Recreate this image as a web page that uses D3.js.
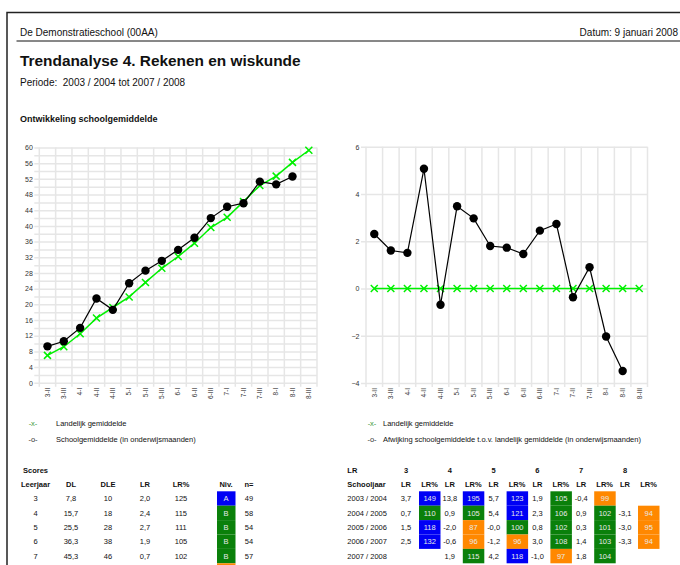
<!DOCTYPE html>
<html>
<head>
<meta charset="utf-8">
<script src="https://cdn.jsdelivr.net/npm/d3@7"></script>
<style>
  body { margin: 0; background: #fff; }
  svg { display: block; font-family: "Liberation Sans", Arial, sans-serif; }
  text { white-space: pre; }
</style>
</head>
<body>
<svg id="chart" width="680" height="565"></svg>
<script>
// periods (leerjaar - meetmoment)
const PERIODS = ["3-II", "3-III", "4-I", "4-II", "4-III", "5-I", "5-II", "5-III", "6-I", "6-II", "6-III", "7-I", "7-II", "7-III", "8-I", "8-II", "8-III"];
const SCHOOL_AVG = [9.3, 10.6, 14.0, 21.5, 18.6, 25.4, 28.6, 31.1, 33.9, 37.0, 42.0, 44.9, 45.8, 51.3, 50.6, 52.6];
const NATIONAL_AVG = [7.0, 9.2, 12.5, 16.5, 19.2, 21.9, 25.6, 29.2, 32.2, 35.6, 39.6, 42.2, 46.2, 50.3, 52.7, 56.2, 59.3];
const DEVIATION = [2.31, 1.61, 1.51, 5.07, -0.69, 3.48, 2.97, 1.80, 1.73, 1.46, 2.45, 2.73, -0.37, 0.90, -2.03, -3.49];
const NATIONAL_DEV = PERIODS.map(() => 0);

// scores table (the 8th row only shows the top of its Niv. cell)
const SCORE_COLS = ["Leerjaar", "DL", "DLE", "LR", "LR%", "Niv.", "n="];
const SCORE_GRADE = ["3", "4", "5", "6", "7"];
const SCORE_DL = ["7,8", "15,7", "25,5", "36,3", "45,3"];
const SCORE_DLE = ["10", "18", "28", "38", "46"];
const SCORE_LR = ["2,0", "2,4", "2,7", "1,9", "0,7"];
const SCORE_LRP = ["125", "115", "111", "105", "102"];
const SCORE_NIV = ["A", "B", "B", "B", "B", "C"];
const SCORE_N = ["49", "58", "54", "54", "57"];

// LR per schooljaar table
const TREND_GRADES = ["3", "4", "5", "6", "7", "8"];
const YEARS = ["2003 / 2004", "2004 / 2005", "2005 / 2006", "2006 / 2007", "2007 / 2008"];
const LR_BY_YEAR = [
  ["3,7", "13,8", "5,7", "1,9", "-0,4", ""],
  ["0,7", "0,9", "5,4", "2,3", "0,9", "-3,1"],
  ["1,5", "-2,0", "-0,0", "0,8", "0,3", "-3,0"],
  ["2,5", "-0,6", "-1,2", "3,0", "1,4", "-3,3"],
  ["", "1,9", "4,2", "-1,0", "1,8", ""]
];
const LRP_BY_YEAR = [
  [149, 195, 123, 105, 99, null],
  [110, 105, 121, 106, 102, 94],
  [118, 87, 100, 102, 101, 95],
  [132, 96, 96, 108, 103, 94],
  [null, 115, 118, 97, 104, null]
];

const NIV_COLOR = { A: "#0000f5", B: "#0a800a", C: "#ff8800" };
const GREEN = "#00f000";
const GRID = "#e6e6e6";
const level = v => (v < 100 ? "C" : v <= 115 ? "B" : "A");

const svg = d3.select("#chart");

// page frame + header
svg.append("path")
  .attr("d", "M7,565V12.5H680")
  .attr("fill", "none")
  .attr("stroke", "#222")
  .attr("stroke-width", 1.5);
svg.append("line")
  .attr("x1", 16.5).attr("x2", 680)
  .attr("y1", 41).attr("y2", 41)
  .attr("stroke", "#111");

const text = (x, y, str, size, opts = {}) =>
  svg.append("text")
    .attr("x", x).attr("y", y)
    .attr("font-size", size)
    .attr("font-weight", opts.bold ? "bold" : null)
    .attr("text-anchor", opts.anchor || "start")
    .attr("fill", opts.fill || "#111")
    .text(str);

text(20, 35.5, "De Demonstratieschool (00AA)", 10);
text(678, 35.5, "Datum: 9 januari 2008", 10, { anchor: "end" });
text(20, 66, "Trendanalyse 4. Rekenen en wiskunde", 15.4, { bold: true });
text(20, 85.5, "Periode:  2003 / 2004 tot 2007 / 2008", 10);
text(20, 122, "Ontwikkeling schoolgemiddelde", 9, { bold: true });

function drawChart(cfg) {
  const { left, right, top, bottom, domain, gridStep, labelStep } = cfg;
  const x = d3.scaleBand().domain(PERIODS).range([left, right]);
  const y = d3.scaleLinear().domain(domain).range([bottom, top]);
  const g = svg.append("g");

  // horizontal grid
  g.append("g")
    .attr("transform", `translate(${left - 5},0)`)
    .call(d3.axisLeft(y).tickValues(d3.range(domain[0], domain[1] + 0.01, gridStep)).tickSize(-(right - left + 5)).tickFormat(""))
    .call(a => a.select(".domain").remove())
    .call(a => a.selectAll("line").attr("stroke", GRID).attr("stroke-width", 1.5));

  // vertical grid at band edges
  const edges = PERIODS.map(p => x(p)).concat([right]);
  g.append("g").selectAll("line")
    .data(edges)
    .join("line")
    .attr("x1", d => d).attr("x2", d => d)
    .attr("y1", top).attr("y2", bottom + 4)
    .attr("stroke", GRID)
    .attr("stroke-width", 1.5);

  // y labels
  g.append("g")
    .attr("transform", `translate(${left},0)`)
    .call(d3.axisLeft(y).tickValues(d3.range(domain[0], domain[1] + 0.01, labelStep)).tickSize(0).tickPadding(6.5))
    .call(a => a.select(".domain").remove())
    .call(a => a.selectAll("text").attr("font-size", 7).attr("fill", "#333").attr("font-family", null));

  // x labels
  g.append("g")
    .attr("transform", `translate(0,${bottom})`)
    .call(d3.axisBottom(x).tickSize(0))
    .call(a => a.select(".domain").remove())
    .call(a => a.selectAll("text")
      .attr("font-size", 6.5)
      .attr("fill", "#333")
      .attr("font-family", null)
      .attr("text-anchor", "end")
      .attr("transform", "rotate(-90)")
      .attr("x", -5)
      .attr("y", 0)
      .attr("dy", "0.35em"));

  const cx = (d, i) => x(PERIODS[i]) + x.bandwidth() / 2;
  const line = d3.line().x(cx).y(d => y(d));

  // national series (green, x markers)
  g.append("path")
    .datum(cfg.national)
    .attr("d", line)
    .attr("fill", "none")
    .attr("stroke", GREEN)
    .attr("stroke-width", 1.5);
  g.append("g").selectAll("path")
    .data(cfg.national)
    .join("path")
    .attr("transform", (d, i) => `translate(${cx(d, i)},${y(d)})`)
    .attr("d", "M-3.5,-3.5L3.5,3.5M-3.5,3.5L3.5,-3.5")
    .attr("stroke", GREEN)
    .attr("stroke-width", 1.5);

  // school series (black, dots)
  g.append("path")
    .datum(cfg.school)
    .attr("d", line)
    .attr("fill", "none")
    .attr("stroke", "#000")
    .attr("stroke-width", 1.2);
  g.append("g").selectAll("circle")
    .data(cfg.school)
    .join("circle")
    .attr("cx", cx)
    .attr("cy", d => y(d))
    .attr("r", 4.2)
    .attr("fill", "#000");

  // legend
  const lx = cfg.legendX;
  text(lx, 425.5, "-x-", 7.5, { anchor: "middle", fill: "#3a9a3a" });
  text(lx, 441.5, "-o-", 7.5, { anchor: "middle", fill: "#333" });
  text(cfg.legendTextX, 425.5, "Landelijk gemiddelde", 7.5);
  text(cfg.legendTextX, 441.5, cfg.schoolLabel, 7.5);
}

drawChart({
  left: 39.3, right: 317, top: 147.5, bottom: 382.8,
  domain: [0, 60], gridStep: 2, labelStep: 4,
  school: SCHOOL_AVG, national: NATIONAL_AVG,
  legendX: 33, legendTextX: 56,
  schoolLabel: "Schoolgemiddelde (in onderwijsmaanden)"
});

drawChart({
  left: 366, right: 647.5, top: 146.8, bottom: 383,
  domain: [-4, 6], gridStep: 2, labelStep: 2,
  school: DEVIATION, national: NATIONAL_DEV,
  legendX: 372, legendTextX: 383,
  schoolLabel: "Afwijking schoolgemiddelde t.o.v. landelijk gemiddelde (in onderwijsmaanden)"
});

// tables
const rowY = d3.scaleBand().domain(d3.range(6)).range([491.3, 491.3 + 6 * 14.4]);
const rowBase = i => rowY(i) + rowY.bandwidth() / 2 + 2.7;

// Scores table
text(23, 472.5, "Scores", 7.5, { bold: true });
const scoreX = d3.scaleOrdinal().domain(SCORE_COLS).range([35.5, 71, 108, 145, 181, 226, 249]);
SCORE_COLS.forEach(c => text(scoreX(c), 487, c, 7.5, { bold: true, anchor: "middle" }));
svg.append("g").selectAll("rect")
  .data(SCORE_NIV)
  .join("rect")
  .attr("x", 217).attr("width", 18.5)
  .attr("y", (d, i) => rowY(i))
  .attr("height", rowY.bandwidth())
  .attr("fill", d => NIV_COLOR[d]);
SCORE_GRADE.forEach((g, i) => {
  const row = [g, SCORE_DL[i], SCORE_DLE[i], SCORE_LR[i], SCORE_LRP[i], SCORE_NIV[i], SCORE_N[i]];
  row.forEach((v, j) => {
    text(scoreX(SCORE_COLS[j]), rowBase(i), v, 7.5, { anchor: "middle", fill: j === 5 ? "#e8e8e8" : "#111" });
  });
});

// LR per schooljaar table
const gradeX = d3.scaleBand().domain(TREND_GRADES).range([395, 395 + 6 * 43.8]);
text(347.3, 472.5, "LR", 7.5, { bold: true });
text(347.3, 487, "Schooljaar", 7.5, { bold: true });
TREND_GRADES.forEach(g => {
  text(gradeX(g) + 11, 472.5, g, 7.5, { bold: true, anchor: "middle" });
  text(gradeX(g) + 11, 487, "LR", 7.5, { bold: true, anchor: "middle" });
  text(gradeX(g) + 34.5, 487, "LR%", 7.5, { bold: true, anchor: "middle" });
});
YEARS.forEach((yr, i) => {
  text(347.3, rowBase(i), yr, 7.5);
  TREND_GRADES.forEach((g, j) => {
    const lr = LR_BY_YEAR[i][j];
    const p = LRP_BY_YEAR[i][j];
    if (lr) text(gradeX(g) + 11, rowBase(i), lr, 7.5, { anchor: "middle" });
    if (p != null) {
      svg.append("rect")
        .attr("x", gradeX(g) + 24).attr("width", 21.5)
        .attr("y", rowY(i)).attr("height", rowY.bandwidth())
        .attr("fill", NIV_COLOR[level(p)]);
      text(gradeX(g) + 34.7, rowBase(i), p, 7.5, { anchor: "middle", fill: "#e8e8e8" });
    }
  });
});
</script>
</body>
</html>
